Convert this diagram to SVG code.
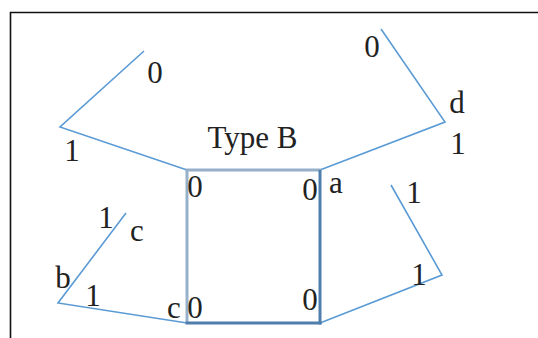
<svg xmlns="http://www.w3.org/2000/svg" width="538" height="338" viewBox="0 0 538 338">
<style>
.t{font-family:"Liberation Serif","Times New Roman",serif;font-size:31px;fill:#222;text-anchor:middle}
.c{fill:none;stroke:#5b9bd5;stroke-width:1.6;stroke-linejoin:miter}
.sl{stroke:#97b0ca;stroke-width:3}
.sd{stroke:#4f7dac;stroke-width:3}
</style>
<rect width="538" height="338" fill="#fff"/>
<path d="M10.5,338 V12.5 H538" fill="none" stroke="#111" stroke-width="1.6"/>
<g id="connectors">
<polyline class="c" points="187,170 60,127 144,51"/>
<polyline class="c" points="320,170 445,122 381,29"/>
<polyline class="c" points="320,323 442,275 391,185"/>
<polyline class="c" points="187,323 58,303 126,213"/>
</g>
<g id="typeB">
<line class="sl" x1="185.5" y1="170" x2="321.5" y2="170"/>
<line class="sl" x1="187" y1="170" x2="187" y2="323"/>
<line class="sd" x1="320" y1="170" x2="320" y2="324.5"/>
<line class="sd" x1="185.5" y1="323" x2="321.5" y2="323"/>
<text class="t" x="252.5" y="148">Type B</text>
<text class="t" x="195" y="197">0</text>
<text class="t" x="310" y="200">0</text>
<text class="t" x="195" y="318">0</text>
<text class="t" x="310" y="310">0</text>
</g>
<g id="labels">
<text class="t" x="155" y="83">0</text>
<text class="t" x="72" y="161">1</text>
<text class="t" x="372" y="57">0</text>
<text class="t" x="457" y="113">d</text>
<text class="t" x="458" y="154">1</text>
<text class="t" x="336" y="193">a</text>
<text class="t" x="414" y="203">1</text>
<text class="t" x="419" y="285">1</text>
<text class="t" x="174" y="318">c</text>
<text class="t" x="106" y="228">1</text>
<text class="t" x="137" y="241">c</text>
<text class="t" x="63" y="288">b</text>
<text class="t" x="93" y="306">1</text>
</g>
</svg>
